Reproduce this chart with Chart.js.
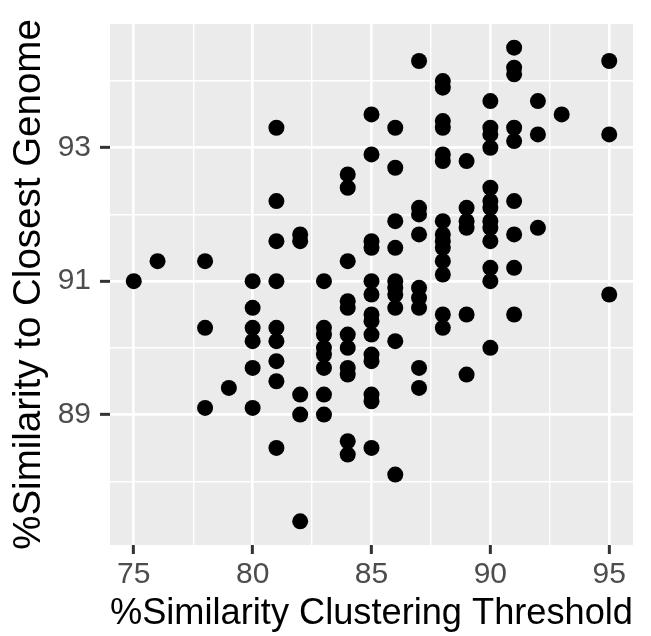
<!DOCTYPE html>
<html>
<head>
<meta charset="utf-8">
<script src="https://cdn.jsdelivr.net/npm/chart.js@4.4.1/dist/chart.umd.min.js"></script>
<style>
  html, body { margin: 0; padding: 0; background: #fff; }
  canvas { display: block; }
</style>
</head>
<body>
<canvas id="grafico" width="651" height="636"></canvas>
<script>
// one point per pair: clustering threshold (x) and similarity (y)
const threshold = [
  75,
  76,
  78, 78, 78,
  79,
  80, 80, 80, 80, 80, 80,
  81, 81, 81, 81, 81, 81, 81, 81, 81,
  82, 82, 82, 82, 82,
  83, 83, 83, 83, 83, 83, 83, 83,
  84, 84, 84, 84, 84, 84, 84, 84, 84, 84, 84,
  85, 85, 85, 85, 85, 85, 85, 85, 85, 85, 85, 85, 85, 85,
  86, 86, 86, 86, 86, 86, 86, 86, 86, 86,
  87, 87, 87, 87, 87, 87, 87, 87, 87,
  88, 88, 88, 88, 88, 88, 88, 88, 88, 88, 88, 88, 88, 88,
  89, 89, 89, 89, 89, 89,
  90, 90, 90, 90, 90, 90, 90, 90, 90, 90, 90, 90, 90,
  91, 91, 91, 91, 91, 91, 91, 91, 91,
  92, 92, 92,
  93,
  95, 95, 95
];
const similarity = [
  91.0,
  91.3,
  91.3, 90.3, 89.1,
  89.4,
  91.0, 90.6, 90.3, 90.1, 89.7, 89.1,
  93.3, 92.2, 91.6, 91.0, 90.3, 90.1, 89.8, 89.5, 88.5,
  91.7, 91.6, 89.3, 89.0, 87.4,
  91.0, 90.3, 90.2, 90.0, 89.9, 89.7, 89.3, 89.0,
  92.6, 92.4, 91.3, 90.7, 90.6, 90.2, 90.0, 89.7, 89.6, 88.6, 88.4,
  93.5, 92.9, 91.6, 91.5, 91.0, 90.8, 90.5, 90.4, 90.2, 89.9, 89.8, 89.3, 89.2, 88.5,
  93.3, 92.7, 91.9, 91.5, 91.0, 90.9, 90.8, 90.6, 90.1, 88.1,
  94.3, 92.1, 92.0, 91.7, 90.9, 90.75, 90.6, 89.7, 89.4,
  94.0, 93.9, 93.4, 93.3, 92.9, 92.8, 91.9, 91.7, 91.6, 91.5, 91.3, 91.1, 90.5, 90.3,
  92.8, 92.1, 91.9, 91.8, 90.5, 89.6,
  93.7, 93.3, 93.2, 93.0, 92.4, 92.2, 92.1, 91.9, 91.8, 91.6, 91.2, 91.0, 90.0,
  94.5, 94.2, 94.1, 93.3, 93.1, 92.2, 91.7, 91.2, 90.5,
  93.7, 93.2, 91.8,
  93.5,
  94.3, 93.2, 90.8
];

// grid lines (major + minor) and the labelled ones
const xGrid = [75, 77.5, 80, 82.5, 85, 87.5, 90, 92.5, 95];
const xLabels = [75, 80, 85, 90, 95];
const yGrid = [88, 89, 90, 91, 92, 93, 94];
const yLabels = [89, 91, 93];

const fonte = "'Liberation Sans', Arial, sans-serif";

const pontos = threshold.map((x, i) => ({ x: x, y: similarity[i] }));

// grey panel behind the grid
const fundoPainel = {
  id: "fundoPainel",
  beforeDraw(chart) {
    const { ctx, chartArea } = chart;
    ctx.save();
    ctx.fillStyle = "#EBEBEB";
    ctx.fillRect(chartArea.left, chartArea.top, chartArea.right - chartArea.left, chartArea.bottom - chartArea.top);
    ctx.restore();
  }
};

function gridOptions(labels, tick) {
  return {
    color: "#FFFFFF",
    lineWidth: (c) => (c.tick && labels.includes(c.tick.value) ? 2.7 : 1.4),
    tickColor: (c) => (c.tick && labels.includes(c.tick.value) ? "#333333" : "rgba(0,0,0,0)"),
    tickWidth: 3,
    tickLength: tick,
    drawTicks: true
  };
}

const ctx = document.getElementById("grafico").getContext("2d");
new Chart(ctx, {
  type: "scatter",
  data: {
    datasets: [{
      data: pontos,
      backgroundColor: "#000000",
      borderWidth: 0,
      pointRadius: 8,
      pointHoverRadius: 8
    }]
  },
  options: {
    responsive: false,
    animation: false,
    events: [],
    layout: { padding: { top: 8, right: 18, left: 0, bottom: 0 } },
    plugins: { legend: { display: false }, tooltip: { enabled: false } },
    scales: {
      x: {
        type: "linear",
        min: 74,
        max: 96,
        afterBuildTicks: (scale) => { scale.ticks = xGrid.map(v => ({ value: v })); },
        afterFit: (scale) => { scale.height = 91; },
        border: { display: false },
        grid: gridOptions(xLabels, 9),
        ticks: {
          autoSkip: false,
          maxRotation: 0,
          padding: 6,
          color: "#4D4D4D",
          font: { family: fonte, size: 30, lineHeight: 1 },
          callback: (v) => (xLabels.includes(v) ? String(v) : "")
        },
        title: {
          display: true,
          text: "%Similarity Clustering Threshold",
          color: "#000000",
          font: { family: fonte, size: 37, lineHeight: 1 },
          padding: { top: 0, bottom: 3.5 }
        }
      },
      y: {
        type: "linear",
        min: 87.045,
        max: 94.855,
        afterBuildTicks: (scale) => { scale.ticks = yGrid.map(v => ({ value: v })); },
        afterFit: (scale) => { scale.width = 110; },
        border: { display: false },
        grid: gridOptions(yLabels, 10),
        ticks: {
          autoSkip: false,
          padding: 9,
          color: "#4D4D4D",
          font: { family: fonte, size: 30, lineHeight: 1 },
          callback: (v) => (yLabels.includes(v) ? String(v) : "")
        },
        title: {
          display: true,
          text: "%Similarity to Closest Genome",
          color: "#000000",
          font: { family: fonte, size: 38.5, lineHeight: 1 },
          padding: { top: 10.5, bottom: 0 }
        }
      }
    }
  },
  plugins: [fundoPainel]
});
</script>
</body>
</html>
